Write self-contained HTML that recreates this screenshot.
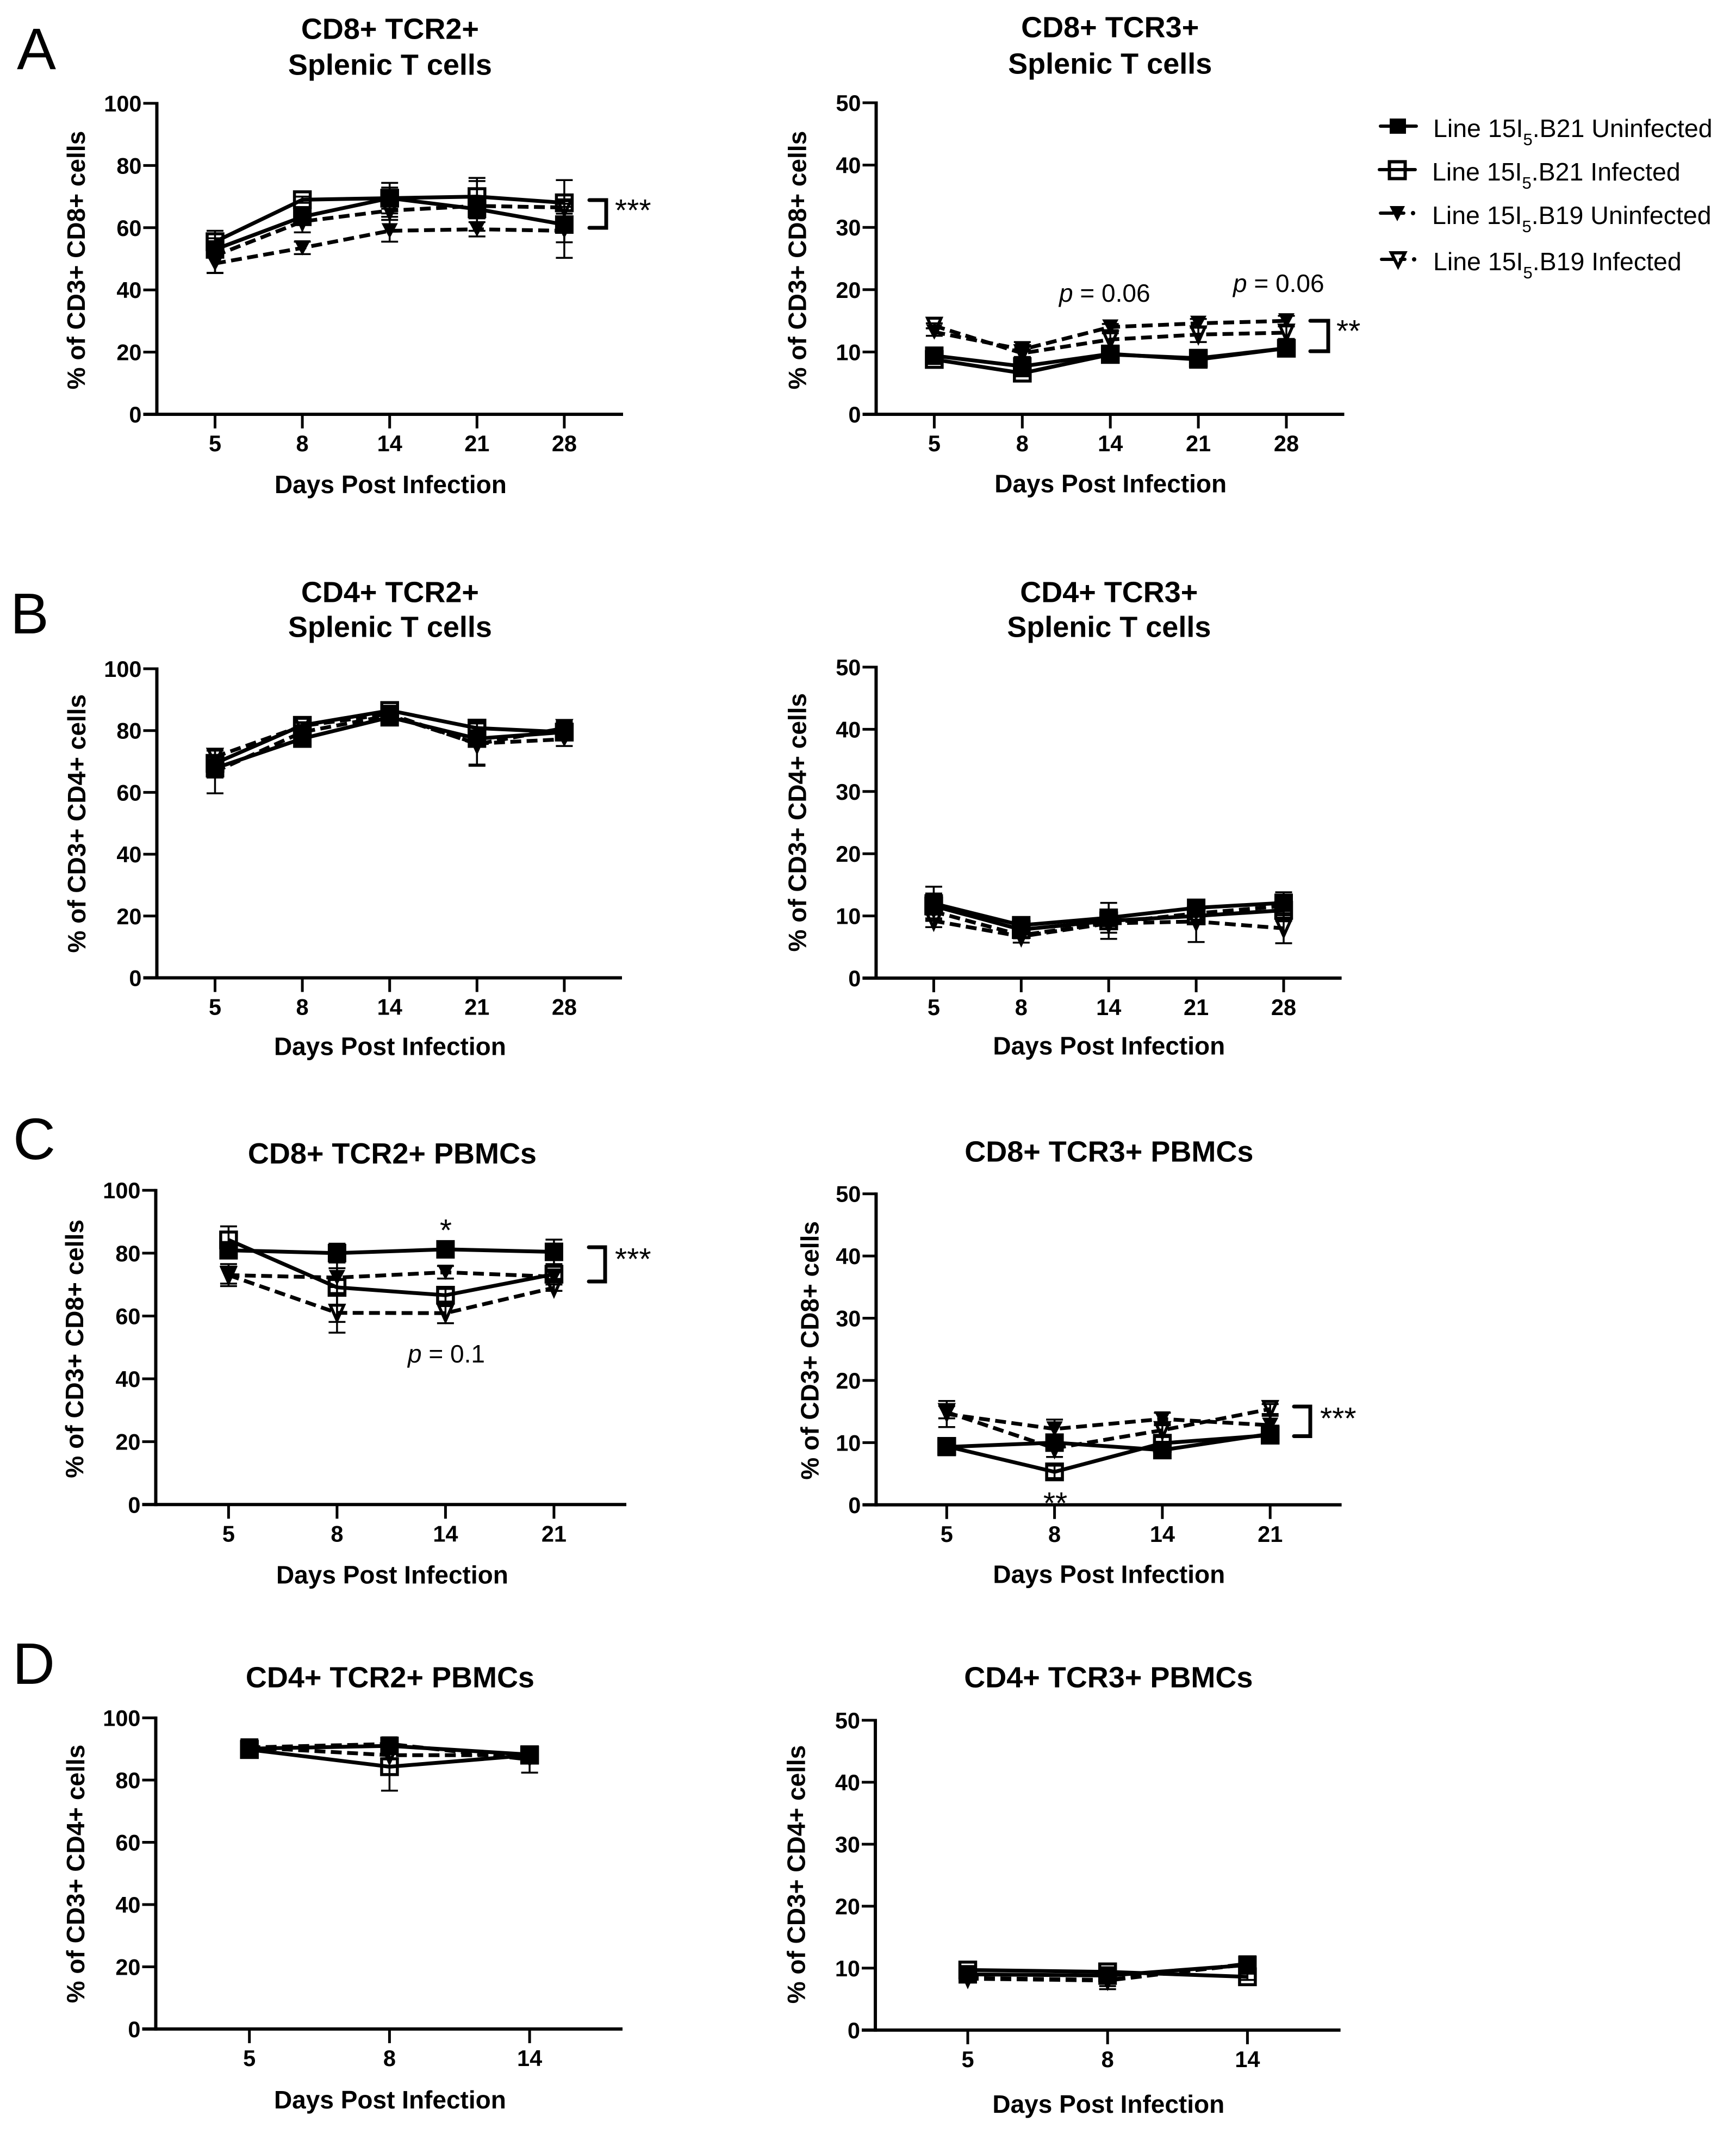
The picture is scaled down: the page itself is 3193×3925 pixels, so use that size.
<!DOCTYPE html>
<html lang="en">
<head>
<meta charset="utf-8">
<title>T cell percentages by line and infection</title>
<style>
html,body{margin:0;padding:0;background:#fff;}
svg{display:block;}
text{font-family:"Liberation Sans",Arial,sans-serif;fill:#000;}
.b{font-weight:bold;}
</style>
</head>
<body>
<svg id="fig" xmlns="http://www.w3.org/2000/svg" width="3193" height="3925" viewBox="0 0 3193 3925">
  <rect width="3193" height="3925" fill="#fff"/>
  <text x="31" y="127" font-size="108">A</text>
  <text x="19" y="1165" font-size="106">B</text>
  <text x="24" y="2132" font-size="108">C</text>
  <text x="23" y="3097" font-size="108">D</text>

  <g>
    <g>
      <line x1="2539" x2="2605" y1="232" y2="232" stroke="#000" stroke-width="6" stroke-linecap="round"/>
      <rect x="2556" y="218" width="30" height="28" fill="#000"/>
      <text x="2636" y="252" font-size="46.5">Line 15I<tspan font-size="31" dy="15">5</tspan><tspan dy="-15">.B21 Uninfected</tspan></text>
    </g>
    <g>
      <line x1="2537" x2="2603" y1="312" y2="312" stroke="#000" stroke-width="6" stroke-linecap="round"/>
      <rect x="2555.5" y="297.5" width="29" height="31" fill="none" stroke="#000" stroke-width="6"/>
      <text x="2634" y="332" font-size="46.5">Line 15I<tspan font-size="31" dy="15">5</tspan><tspan dy="-15">.B21 Infected</tspan></text>
    </g>
    <g>
      <line x1="2539" x2="2562" y1="392" y2="392" stroke="#000" stroke-width="6" stroke-linecap="round"/>
      <line x1="2574" x2="2582" y1="392" y2="392" stroke="#000" stroke-width="6" stroke-linecap="round"/>
      <circle cx="2599" cy="392" r="4" fill="#000"/>
      <polygon points="2556,379 2584,379 2570,407" fill="#000"/>
      <text x="2634" y="412" font-size="46.5">Line 15I<tspan font-size="31" dy="15">5</tspan><tspan dy="-15">.B19 Uninfected</tspan></text>
    </g>
    <g>
      <line x1="2541" x2="2564" y1="477" y2="477" stroke="#000" stroke-width="6" stroke-linecap="round"/>
      <line x1="2576" x2="2584" y1="477" y2="477" stroke="#000" stroke-width="6" stroke-linecap="round"/>
      <circle cx="2601" cy="477" r="4" fill="#000"/>
      <polygon points="2559,465 2584,465 2571.5,490" fill="none" stroke="#000" stroke-width="6"/>
      <text x="2636" y="497" font-size="46.5">Line 15I<tspan font-size="31" dy="15">5</tspan><tspan dy="-15">.B19 Infected</tspan></text>
    </g>
  </g>
</svg>

<script>
// ---- shared categories and tick labels ----
const daysFive = ["5","8","14","21","28"];
const daysFour = ["5","8","14","21"];
const daysThree = ["5","8","14"];
const ticksHundred = [0,20,40,60,80,100];
const ticksFifty = [0,10,20,30,40,50];

// ---- A left: CD8+ TCR2+ splenic ----
const a1U21 = [53,63.5,69.5,66,61];
const a1I21 = [55.5,69,69.5,70,68];
const a1U19 = [48.5,53.5,59,59.5,59];
const a1I19 = [51,62,65.5,67,66.5];
const a1U21Err = [2,2,4.9,3,5.7];
const a1I21Err = [3.5,1,3.4,6,7.3];
const a1U19Err = [3,2,3.5,2.3,8.7];
const a1I19Err = [5.6,3.5,2,8,2];

// ---- A right: CD8+ TCR3+ splenic ----
const a2U21 = [9.4,7.7,9.7,8.8,10.6];
const a2I21 = [8.8,6.6,9.6,9,10.6];
const a2U19 = [13.2,10.4,14,14.6,15];
const a2I19 = [14.2,9.8,12,12.8,13.1];
const a2U21Err = [0.5,0.6,0.5,0.6,0.3];
const a2I21Err = [0.5,0.5,0.5,0.8,0.3];
const a2U19Err = [0.6,1.2,0.5,0.7,0.8];
const a2I19Err = [0.4,0.6,1,1.2,1];

// ---- B left: CD4+ TCR2+ splenic ----
const b1U21 = [67.8,77.4,84.3,77.4,79.5];
const b1I21 = [69.4,81.7,86.5,80.8,79.5];
const b1U19 = [66.7,79.5,84.9,75.8,77.2];
const b1I19 = [71.5,81.5,85.4,75.6,80.8];
const b1U21Err = [3,1,0.8,1.5,1.2];
const b1I21Err = [2,1,1,1.5,1];
const b1U19Err = [7,2,1,6.8,2.2];
const b1I19Err = [2,1,1,7,2];

// ---- B right: CD4+ TCR3+ splenic ----
const b2U21 = [12,8.5,9.7,11.3,12.1];
const b2I21 = [11.6,7.8,9.2,10,10.9];
const b2U19 = [10.7,6.9,8.9,10.4,11.6];
const b2I19 = [9.2,6.7,8.8,9.1,8];
const b2U21Err = [2.7,0.7,1.3,1.2,1.7];
const b2I21Err = [2,0.8,2.9,1,1.7];
const b2U19Err = [1.5,0.5,1,1,1.5];
const b2I19Err = [1,1,1.5,3.3,2.4];

// ---- C left: CD8+ TCR2+ PBMCs ----
const c1U21 = [80.9,80,81.2,80.4];
const c1I21 = [84.2,69.1,66.6,73.3];
const c1U19 = [73,72.2,73.9,72.5];
const c1I19 = [73,61,60.9,69];
const c1U21Err = [2.5,3,1.2,3.9];
const c1I21Err = [4.3,11,2,1.5];
const c1U19Err = [3.5,3,2,1.5];
const c1I19Err = [2.7,6.3,3.2,1];

// ---- C right: CD8+ TCR3+ PBMCs ----
const c2U21 = [9.3,10,8.8,11.4];
const c2I21 = [9.4,5.3,9.9,11.2];
const c2U19 = [14.6,12.2,13.8,12.8];
const c2I19 = [14.9,9.1,12,15.4];
const c2U21Err = [0.5,1.2,0.5,1];
const c2I21Err = [0.6,1,1,1];
const c2U19Err = [2.1,1.5,1,1.5];
const c2I19Err = [1,1.4,1,0.8];

// ---- D left: CD4+ TCR2+ PBMCs ----
const d1U21 = [90.1,91,88.2];
const d1I21 = [89.8,84.3,88];
const d1U19 = [90.5,91.6,86.6];
const d1I19 = [90.5,88,88];
const d1U21Err = [1,1,1];
const d1I21Err = [1.2,7.7,1];
const d1U19Err = [0.8,1,4.2];
const d1I19Err = [0.8,1,1.5];

// ---- D right: CD4+ TCR3+ PBMCs ----
const d2U21 = [9,8.8,10.5];
const d2I21 = [9.7,9.4,8.6];
const d2U19 = [8.3,8,10.7];
const d2I19 = [8.4,8.1,10.6];
const d2U21Err = [0.4,0.4,0.4];
const d2I21Err = [0.4,0.6,0.5];
const d2U19Err = [0.4,1.4,0.8];
const d2I19Err = [0.3,1,0.5];

const NS = "http://www.w3.org/2000/svg";
const root = document.getElementById("fig");

function make(parent, tag, props, content) {
  const node = document.createElementNS(NS, tag);
  for (const key in props) node.setAttribute(key, props[key]);
  if (content !== undefined) node.textContent = content;
  parent.appendChild(node);
  return node;
}

function drawPanel(cfg) {
  const group = make(root, "g", {});
  
  

  const yMax = cfg.ticks[cfg.ticks.length - 1];
  const yScale = function (v) { return cfg.zero - (v / yMax) * (cfg.zero - cfg.top); };
  const xScale = function (i) { return cfg.x0 + i * cfg.dx; };

  // titles
  cfg.titleLines.forEach(function (txt, i) {
    const t = make(group, "text", {x: cfg.titleX, y: cfg.titleY[i], "font-size": 54, "text-anchor": "middle", "class": "b"}, txt);
    
    
  });

  // y axis title
  const yTitle = make(group, "text", {
    transform: "translate(" + cfg.yTitleX + "," + cfg.yTitleY + ") rotate(-90)",
    "font-size": 46, "text-anchor": "middle", "class": "b"
  }, cfg.yTitle);
  
  

  // x axis title
  const xTitle = make(group, "text", {x: cfg.xTitleX, y: cfg.xTitleY, "font-size": 46, "text-anchor": "middle", "class": "b"}, "Days Post Infection");
  
  

  // axes
  const yAxis = make(group, "line", {x1: cfg.ax, x2: cfg.ax, y1: cfg.top - 2.5, y2: cfg.zero + 3, stroke: "#000", "stroke-width": 6});
  
  
  const xAxis = make(group, "line", {x1: cfg.ax - 25, x2: cfg.end, y1: cfg.zero, y2: cfg.zero, stroke: "#000", "stroke-width": 6});
  
  

  cfg.ticks.forEach(function (tick) {
    const py = yScale(tick);
    const mark = make(group, "line", {x1: cfg.ax - 25, x2: cfg.ax, y1: py, y2: py, stroke: "#000", "stroke-width": 5});
    
    
    const lab = make(group, "text", {x: cfg.ax - 28, y: py + 15, "font-size": 41.5, "text-anchor": "end", "class": "b"}, String(tick));
    
    
  });

  cfg.days.forEach(function (day, i) {
    const px = xScale(i);
    const mark = make(group, "line", {x1: px, x2: px, y1: cfg.zero, y2: cfg.zero + 26, stroke: "#000", "stroke-width": 5});
    
    
    const lab = make(group, "text", {x: px, y: cfg.zero + 68, "font-size": 41.5, "text-anchor": "middle", "class": "b"}, day);
    
    
  });

  // series
  cfg.series.forEach(function (s) {
    const sg = make(group, "g", {});
    
    

    s.values.forEach(function (v, i) {
      const px = xScale(i);
      const hi = yScale(v + s.err[i]);
      const lo = yScale(v - s.err[i]);
      const bar = make(sg, "path", {
        d: "M" + (px - 15.5) + " " + hi + "H" + (px + 15.5) + "M" + px + " " + hi + "V" + lo + "M" + (px - 15.5) + " " + lo + "H" + (px + 15.5),
        fill: "none", stroke: "#000", "stroke-width": 3.5
      });
      
      
    });

    const pts = s.values.map(function (v, i) { return xScale(i) + "," + yScale(v); }).join(" ");
    const line = make(sg, "polyline", {points: pts, fill: "none", stroke: "#000", "stroke-width": 7});
    if (s.dashed) line.setAttribute("stroke-dasharray", "20 10");
    
    

    s.values.forEach(function (v, i) {
      const px = xScale(i);
      const py = yScale(v);
      let marker;
      if (s.shape === "square") {
        const half = s.filled ? 17 : 14.5;
        marker = make(sg, "rect", {
          x: px - half, y: py - half, width: half * 2, height: half * 2,
          fill: s.filled ? "#000" : "none", stroke: s.filled ? "none" : "#000", "stroke-width": s.filled ? 0 : 5.5
        });
      } else {
        const w = s.filled ? 15 : 12.5;
        const h = 14;
        const tip = 14;
        marker = make(sg, "polygon", {
          points: (px - w) + "," + (py - h) + " " + (px + w) + "," + (py - h) + " " + px + "," + (py + tip),
          fill: s.filled ? "#000" : "none", stroke: s.filled ? "none" : "#000", "stroke-width": s.filled ? 0 : 5.5
        });
      }
      
      
    });
  });

  // significance brackets
  (cfg.brackets || []).forEach(function (b) {
    const br = make(group, "path", {
      d: "M" + b.x1 + " " + b.y1 + "H" + b.x2 + "V" + b.y2 + "H" + b.x1,
      fill: "none", stroke: "#000", "stroke-width": 7, "stroke-linecap": "round"
    });
    
    
  });

  // stars
  (cfg.stars || []).forEach(function (st) {
    const t = make(group, "text", {x: st.x, y: st.y, "font-size": 57, "text-anchor": st.anchor || "start"}, st.text);
    
    
  });

  // p values
  (cfg.pvals || []).forEach(function (p) {
    const t = make(group, "text", {x: p.x, y: p.y, "font-size": 46});
    const it = make(t, "tspan", {"font-style": "italic"}, "p");
    
    
    const rest = make(t, "tspan", {}, " = " + p.text);
    
    
    
    
  });
}

function seriesSet(u21, u21e, i21, i21e, u19, u19e, i19, i19e) {
  return [
    {name: "b21-uninfected", values: u21, err: u21e, shape: "square", filled: true, dashed: false},
    {name: "b21-infected", values: i21, err: i21e, shape: "square", filled: false, dashed: false},
    {name: "b19-uninfected", values: u19, err: u19e, shape: "tri", filled: true, dashed: true},
    {name: "b19-infected", values: i19, err: i19e, shape: "tri", filled: false, dashed: true}
  ];
}

drawPanel({
  id: "cd8-tcr2-splenic", days: daysFive, ticks: ticksHundred,
  ax: 288.5, top: 190, zero: 762, end: 1146, x0: 395.5, dx: 160.6,
  titleLines: ["CD8+ TCR2+", "Splenic T cells"], titleX: 717.4, titleY: [71.6, 137.5],
  yTitle: "% of CD3+ CD8+ cells", yTitleX: 156.2, yTitleY: 478.6, xTitleX: 718.4, xTitleY: 907,
  series: seriesSet(a1U21, a1U21Err, a1I21, a1I21Err, a1U19, a1U19Err, a1I19, a1I19Err),
  brackets: [{x1: 1084, x2: 1115, y1: 368, y2: 419}],
  stars: [{x: 1131, y: 406, text: "***"}]
});
drawPanel({
  id: "cd8-tcr3-splenic", days: daysFive, ticks: ticksFifty,
  ax: 1611.5, top: 189, zero: 762, end: 2472.5, x0: 1718.4, dx: 161.9,
  titleLines: ["CD8+ TCR3+", "Splenic T cells"], titleX: 2041.7, titleY: [68.6, 135.3],
  yTitle: "% of CD3+ CD8+ cells", yTitleX: 1482.6, yTitleY: 478.6, xTitleX: 2042.7, xTitleY: 905.4,
  series: seriesSet(a2U21, a2U21Err, a2I21, a2I21Err, a2U19, a2U19Err, a2I19, a2I19Err),
  brackets: [{x1: 2410, x2: 2443, y1: 590, y2: 646}],
  stars: [{x: 2458, y: 628, text: "**"}],
  pvals: [{x: 1948, y: 555, text: "0.06"}, {x: 2268, y: 537, text: "0.06"}]
});
drawPanel({
  id: "cd4-tcr2-splenic", days: daysFive, ticks: ticksHundred,
  ax: 288.5, top: 1230, zero: 1798.5, end: 1144, x0: 395.5, dx: 160.6,
  titleLines: ["CD4+ TCR2+", "Splenic T cells"], titleX: 717.4, titleY: [1107.7, 1171.4],
  yTitle: "% of CD3+ CD4+ cells", yTitleX: 157.2, yTitleY: 1514.7, xTitleX: 717.4, xTitleY: 1940.4,
  series: seriesSet(b1U21, b1U21Err, b1I21, b1I21Err, b1U19, b1U19Err, b1I19, b1I19Err)
});
drawPanel({
  id: "cd4-tcr3-splenic", days: daysFive, ticks: ticksFifty,
  ax: 1611.4, top: 1227, zero: 1799, end: 2467.6, x0: 1717.4, dx: 160.9,
  titleLines: ["CD4+ TCR3+", "Splenic T cells"], titleX: 2039.8, titleY: [1107.7, 1171.4],
  yTitle: "% of CD3+ CD4+ cells", yTitleX: 1482.6, yTitleY: 1512.7, xTitleX: 2039.8, xTitleY: 1939.5,
  series: seriesSet(b2U21, b2U21Err, b2I21, b2I21Err, b2U19, b2U19Err, b2I19, b2I19Err)
});
drawPanel({
  id: "cd8-tcr2-pbmc", days: daysFour, ticks: ticksHundred,
  ax: 286.5, top: 2189.2, zero: 2767.3, end: 1152, x0: 420.4, dx: 199.5,
  titleLines: ["CD8+ TCR2+ PBMCs"], titleX: 721.4, titleY: [2140],
  yTitle: "% of CD3+ CD8+ cells", yTitleX: 153.2, yTitleY: 2480.8, xTitleX: 721.4, xTitleY: 2912.6,
  series: seriesSet(c1U21, c1U21Err, c1I21, c1I21Err, c1U19, c1U19Err, c1I19, c1I19Err),
  brackets: [{x1: 1083, x2: 1113, y1: 2294, y2: 2357}],
  stars: [{x: 1131, y: 2335, text: "***"}, {x: 820, y: 2282, text: "*", anchor: "middle"}],
  pvals: [{x: 750, y: 2506, text: "0.1"}]
});
drawPanel({
  id: "cd8-tcr3-pbmc", days: daysFour, ticks: ticksFifty,
  ax: 1611.4, top: 2195.7, zero: 2767.8, end: 2467.6, x0: 1741.3, dx: 198.3,
  titleLines: ["CD8+ TCR3+ PBMCs"], titleX: 2039.8, titleY: [2136.5],
  yTitle: "% of CD3+ CD8+ cells", yTitleX: 1505.5, yTitleY: 2483.8, xTitleX: 2039.8, xTitleY: 2911.6,
  series: seriesSet(c2U21, c2U21Err, c2I21, c2I21Err, c2U19, c2U19Err, c2I19, c2I19Err),
  brackets: [{x1: 2380, x2: 2410, y1: 2587, y2: 2641.5}],
  stars: [{x: 2428, y: 2628, text: "***"}, {x: 1941, y: 2784, text: "**", anchor: "middle"}]
});
drawPanel({
  id: "cd4-tcr2-pbmc", days: daysThree, ticks: ticksHundred,
  ax: 286.5, top: 3159.6, zero: 3731.9, end: 1145, x0: 458.7, dx: 257.7,
  titleLines: ["CD4+ TCR2+ PBMCs"], titleX: 717.4, titleY: [3103.3],
  yTitle: "% of CD3+ CD4+ cells", yTitleX: 155.2, yTitleY: 3446.5, xTitleX: 717.4, xTitleY: 3878,
  series: seriesSet(d1U21, d1U21Err, d1I21, d1I21Err, d1U19, d1U19Err, d1I19, d1I19Err)
});
drawPanel({
  id: "cd4-tcr3-pbmc", days: daysThree, ticks: ticksFifty,
  ax: 1610, top: 3164, zero: 3733.9, end: 2465.6, x0: 1780, dx: 257.2,
  titleLines: ["CD4+ TCR3+ PBMCs"], titleX: 2038.8, titleY: [3103.3],
  yTitle: "% of CD3+ CD4+ cells", yTitleX: 1480.6, yTitleY: 3447.5, xTitleX: 2038.8, xTitleY: 3886,
  series: seriesSet(d2U21, d2U21Err, d2I21, d2I21Err, d2U19, d2U19Err, d2I19, d2I19Err)
});
</script>
</body>
</html>
